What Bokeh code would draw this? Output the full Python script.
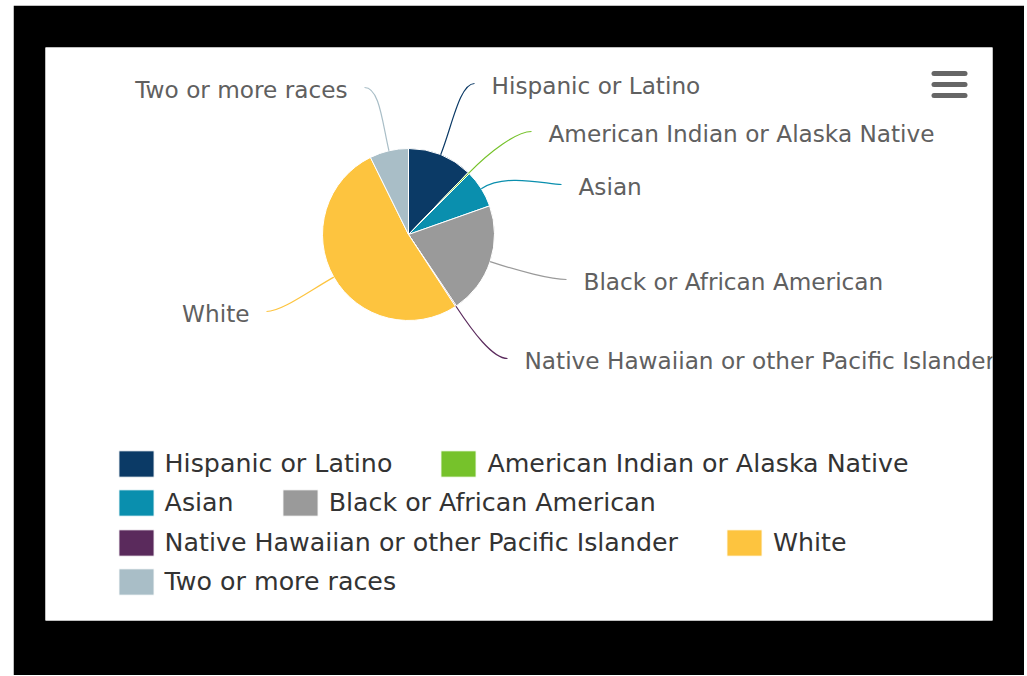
import math
from bokeh.plotting import figure
from bokeh.layouts import column, row
from bokeh.models import Range1d, ColumnDataSource, Legend, LegendItem, Spacer
from bokeh.core.properties import value
from bokeh.embed import file_html
from bokeh.resources import INLINE

# ---------------- data ----------------
categories = [
    "Hispanic or Latino",
    "American Indian or Alaska Native",
    "Asian",
    "Black or African American",
    "Native Hawaiian or other Pacific Islander",
    "White",
    "Two or more races",
]
shares = [12.2, 0.3, 7.1, 21.0, 0.2, 51.9, 7.3]
colors = ["#0b3a66", "#76c22b", "#0a8fae", "#9a9a9a", "#5a2a5c", "#fdc43f", "#a9bec7"]

# ---------------- layout (page pixels) ----------------
FX0, FY0 = 13, 5                                  # figure top-left on page
W, H = 1011, 670
PAGE_H = 676
PX0, PX1, PY0, PY1 = 45, 992, 47, 620          # white panel
CX, CY, R = 408, 234, 86                          # pie centre / radius
label_x = [491, 548, 578, 583, 524, 249, 347]     # text start (right side) / text end (left side)
label_y = [85, 133, 186, 281, 360, 313, 89]
label_side = [1, 1, 1, 1, 1, -1, -1]
legend_rows = [[0, 1], [2, 3], [4, 5], [6]]
legend_row_y = [463, 502, 542, 581]
legend_x = 113.6
FONT = "DejaVu Sans"


def fy(y):
    return PAGE_H - y


p = figure(width=W, height=H, output_backend="svg", toolbar_location=None,
           x_range=Range1d(PX0, PX1), y_range=Range1d(fy(PY1), fy(PY0)),
           x_axis_location=None, y_axis_location=None,
           min_border_left=PX0 - FX0, min_border_right=FX0 + W - PX1,
           min_border_top=PY0 - FY0, min_border_bottom=FY0 + H - PY1)
p.grid.grid_line_color = None
p.background_fill_color = "white"
p.border_fill_color = "black"
p.outline_line_color = None

total = sum(shares)
starts, ends, mids = [], [], []
cum = 0.0
for s in shares:
    a0 = math.pi / 2 - 2 * math.pi * (cum + s) / total
    a1 = math.pi / 2 - 2 * math.pi * cum / total
    starts.append(a0)
    ends.append(a1)
    mids.append((a0 + a1) / 2)
    cum += s

src = ColumnDataSource(dict(cat=categories, start=starts, end=ends, color=colors))
wr = p.wedge(x=CX, y=fy(CY), radius=R, start_angle="start", end_angle="end",
             fill_color="color", line_color="white", line_width=1, source=src)

# connectors
x0s, y0s, x1s, y1s, c0x, c0y, c1x, c1y = [], [], [], [], [], [], [], []
for m, lx, ly, sd in zip(mids, label_x, label_y, label_side):
    ex, ey = CX + R * math.cos(m), fy(CY) + R * math.sin(m)
    ax, ay = lx - sd * 17, fy(ly - 2)
    x0s.append(ex); y0s.append(ey)
    x1s.append(ax); y1s.append(ay)
    c0x.append(ex + 30 * math.cos(m)); c0y.append(ey + 30 * math.sin(m))
    c1x.append(ax - sd * 15); c1y.append(ay)
p.bezier(x0=x0s, y0=y0s, x1=x1s, y1=y1s, cx0=c0x, cy0=c0y, cx1=c1x, cy1=c1y,
         line_color=colors, line_width=1.2)

# data labels
for side, align in ((1, "left"), (-1, "right")):
    idx = [i for i in range(len(categories)) if label_side[i] == side]
    p.text(x=[label_x[i] for i in idx], y=[fy(label_y[i]) for i in idx],
           text=[categories[i] for i in idx], text_align=align, text_baseline="middle",
           text_font=value(FONT), text_font_size="23.2px", text_color="#606060")

# legend rows
ITEM_H = 33
for rw, ry in zip(legend_rows, legend_row_y):
    leg = Legend(items=[LegendItem(label=categories[i], renderers=[wr], index=i) for i in rw],
                 orientation="horizontal",
                 location=(legend_x - PX0, PY1 - (ry + ITEM_H / 2)),
                 padding=0, margin=0, spacing=44, label_standoff=7,
                 glyph_width=44, glyph_height=ITEM_H, label_height=ITEM_H,
                 label_text_font=FONT, label_text_font_size="25.3px",
                 label_text_color="#333333", border_line_color=None,
                 background_fill_alpha=0)
    p.add_layout(leg)

# menu icon
bars_y = [73, 84, 95]
p.segment(x0=[933.5] * 3, y0=[fy(b) for b in bars_y], x1=[964.5] * 3, y1=[fy(b) for b in bars_y],
          line_color="#666666", line_width=5, line_cap="round")

page = column(Spacer(width=1, height=FY0), row(Spacer(width=FX0, height=1), p))
open("out.html", "w").write(file_html(page, INLINE))
